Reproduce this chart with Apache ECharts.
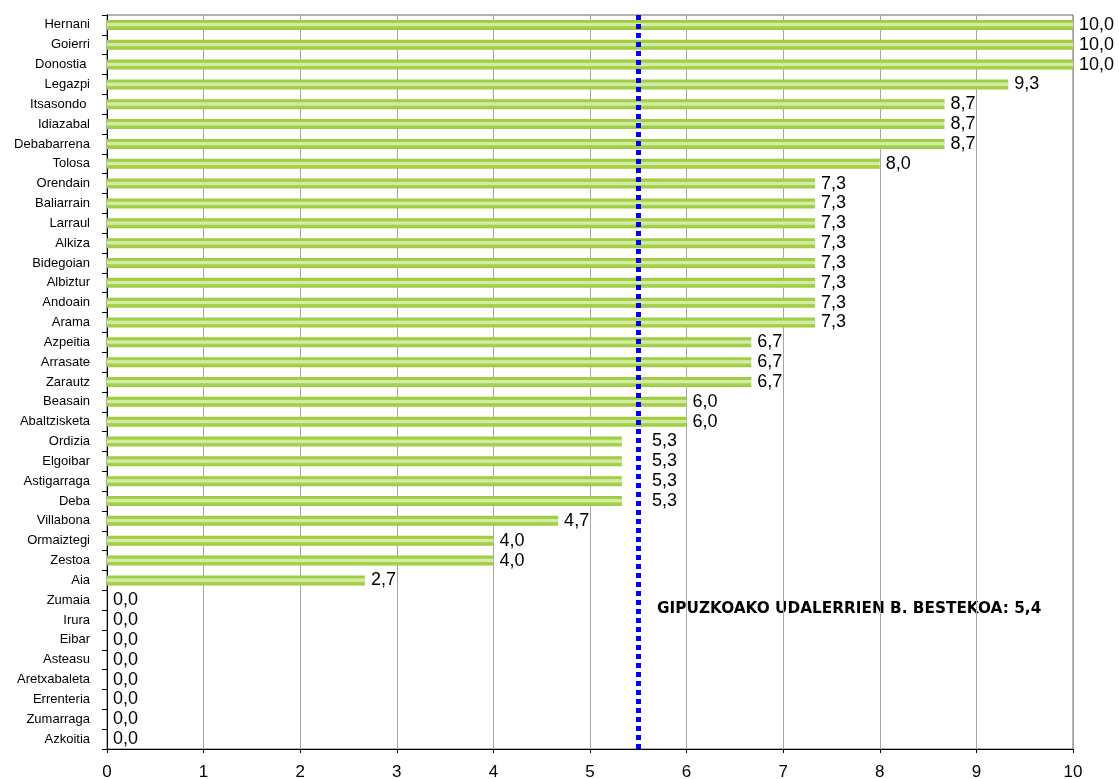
<!DOCTYPE html>
<html>
<head>
<meta charset="utf-8">
<script src="https://cdn.jsdelivr.net/npm/echarts@6/dist/echarts.min.js"></script>
<style>
html,body{margin:0;padding:0;background:#fff;}
#chart{width:1119px;height:779px;}
</style>
</head>
<body>
<div id="chart"></div>
<script>
const categories = ["Hernani","Goierri","Donostia ","Legazpi","Itsasondo ","Idiazabal","Debabarrena","Tolosa","Orendain","Baliarrain","Larraul","Alkiza","Bidegoian","Albiztur","Andoain","Arama","Azpeitia","Arrasate","Zarautz","Beasain","Abaltzisketa","Ordizia","Elgoibar","Astigarraga","Deba","Villabona","Ormaiztegi","Zestoa","Aia","Zumaia","Irura","Eibar","Asteasu","Aretxabaleta","Errenteria","Zumarraga","Azkoitia"];
const values = [10,10,10,9.33,8.67,8.67,8.67,8,7.33,7.33,7.33,7.33,7.33,7.33,7.33,7.33,6.67,6.67,6.67,6,6,5.33,5.33,5.33,5.33,4.67,4,4,2.67,0,0,0,0,0,0,0,0];
const avgLine = 5.5;
const avgText = "GIPUZKOAKO UDALERRIEN B. BESTEKOA: 5,4";
const xTicks = [0,1,2,3,4,5,6,7,8,9,10];

const fmt = v => v.toFixed(1).replace('.', ',');

const barData = values.map(v => {
  const item = { value: v };
  if (v < avgLine && avgLine - v < 0.3) {
    item.label = { offset: [24, 0] };
  }
  return item;
});

const chart = echarts.init(document.getElementById('chart'), null, { renderer: 'canvas' });
chart.setOption({
  animation: false,
  backgroundColor: '#fff',
  grid: { left: 107, right: 46, top: 15, bottom: 30, containLabel: false, outerBoundsMode: 'none', show: true, borderColor: '#666', borderWidth: 1, backgroundColor: 'transparent' },
  xAxis: {
    type: 'value', min: 0, max: 10, interval: 1,
    axisLine: { show: true, lineStyle: { color: '#000', width: 1 } },
    axisTick: { show: true, length: 4, lineStyle: { color: '#000' } },
    axisLabel: { color: '#000', fontFamily: 'Liberation Sans, Arial, sans-serif', fontSize: 17, margin: 15, formatter: v => xTicks.includes(v) ? String(v) : '' },
    splitLine: { show: true, lineStyle: { color: '#a6a6a6', width: 1 } }
  },
  yAxis: {
    type: 'category', data: categories, inverse: true,
    axisLine: { show: true, lineStyle: { color: '#000', width: 1 } },
    axisTick: { show: true, length: 5, lineStyle: { color: '#000' } },
    axisLabel: { color: '#000', fontFamily: 'Liberation Sans, Arial, sans-serif', fontSize: 13, margin: 17 },
    splitLine: { show: false }
  },
  series: [{
    type: 'bar',
    data: barData,
    barWidth: 10,
    itemStyle: {
      color: new echarts.graphic.LinearGradient(0, 0, 0, 1, [
        { offset: 0, color: '#9ccb3c' },
        { offset: 0.28, color: '#a6d04e' },
        { offset: 0.34, color: '#d3eaa0' },
        { offset: 0.6, color: '#d6eca6' },
        { offset: 0.66, color: '#a9d355' },
        { offset: 1, color: '#9ccb3c' }
      ])
    },
    label: {
      show: true, position: 'right', distance: 6,
      color: '#000', fontFamily: 'Liberation Sans, Arial, sans-serif', fontSize: 18,
      formatter: p => fmt(p.value)
    },
    markLine: {
      silent: true, symbol: 'none',
      label: { show: false },
      lineStyle: { color: '#0000ff', width: 5, type: [5, 4] },
      data: [{ xAxis: avgLine }]
    }
  }],
  graphic: [{
    type: 'text', left: 657, top: 602,
    style: { text: avgText, fill: '#000', font: 'bold 15.3px "DejaVu Sans", sans-serif' }
  }]
});
</script>
</body>
</html>
